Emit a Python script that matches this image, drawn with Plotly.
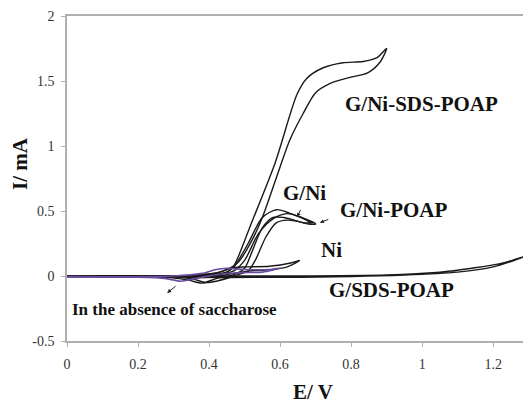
import plotly.graph_objects as go

# ---- data (E in V, I in mA), forward then reverse scan ----
sds_poap_E = [0, 0.2, 0.35, 0.43, 0.48, 0.52, 0.55, 0.59, 0.628, 0.665, 0.70, 0.74, 0.80, 0.845, 0.88, 0.90,
              0.873, 0.834, 0.777, 0.72, 0.675, 0.648, 0.586, 0.515, 0.49, 0.47, 0.45, 0.40, 0.2, 0]
sds_poap_I = [0, 0, 0.005, 0.03, 0.10, 0.27, 0.45, 0.76, 1.05, 1.25, 1.41, 1.48, 1.53, 1.56, 1.64, 1.75,
              1.68, 1.65, 1.64, 1.60, 1.52, 1.40, 0.87, 0.377, 0.2, 0.08, 0.03, 0.0, -0.005, -0.005]

gni_E = [0, 0.3, 0.40, 0.45, 0.47, 0.51, 0.55, 0.59, 0.63, 0.66, 0.68, 0.695,
         0.665, 0.64, 0.61, 0.58, 0.55, 0.52, 0.50, 0.47, 0.42, 0.38, 0.34, 0.25, 0]
gni_I = [0, 0.0, 0.01, 0.03, 0.07, 0.25, 0.45, 0.51, 0.48, 0.45, 0.42, 0.41,
         0.41, 0.43, 0.45, 0.45, 0.37, 0.18, 0.06, 0.01, -0.02, -0.055, -0.03, -0.005, 0]

gni_poap_E = [0, 0.3, 0.42, 0.47, 0.50, 0.54, 0.58, 0.62, 0.66, 0.70,
              0.68, 0.65, 0.62, 0.59, 0.56, 0.53, 0.51, 0.47, 0.42, 0.39, 0.35, 0.2, 0]
gni_poap_I = [0, 0, 0.01, 0.04, 0.12, 0.33, 0.44, 0.48, 0.45, 0.40,
              0.40, 0.42, 0.43, 0.41, 0.30, 0.12, 0.04, 0.0, -0.04, -0.05, -0.02, 0, 0]

ni_E = [0, 0.35, 0.43, 0.46, 0.50, 0.57, 0.63, 0.655,
        0.62, 0.58, 0.52, 0.47, 0.40, 0.3, 0]
ni_I = [0, 0.005, 0.03, 0.06, 0.07, 0.075, 0.10, 0.12,
        0.07, 0.05, 0.04, 0.02, -0.01, -0.005, 0]

g_sds_poap_E = [0, 0.3, 0.6, 0.9, 1.05, 1.14, 1.22, 1.30,
                1.2, 1.1, 0.95, 0.6, 0.3, 0]
g_sds_poap_I = [0, 0, 0.0, 0.008, 0.03, 0.06, 0.095, 0.16,
                0.07, 0.03, 0.008, -0.01, -0.01, -0.005]

blank_E = [0, 0.3, 0.38, 0.42, 0.45, 0.5, 0.57, 0.6,
           0.55, 0.48, 0.42, 0.36, 0.32, 0.28, 0.2, 0]
blank_I = [-0.005, 0.0, 0.02, 0.05, 0.06, 0.05, 0.05, 0.06,
           0.03, 0.025, 0.01, -0.02, -0.04, -0.02, -0.01, -0.01]

x_ticks = [0, 0.2, 0.4, 0.6, 0.8, 1, 1.2]
x_tick_text = ["0", "0.2", "0.4", "0.6", "0.8", "1", "1.2"]
y_ticks = [-0.5, 0, 0.5, 1, 1.5, 2]
y_tick_text = ["-0.5", "0", "0.5", "1", "1.5", "2"]

SERIF = "Liberation Serif"
BLACK = "#1a1a1a"
PURPLE = "#6a4c9c"

fig = go.Figure()
for E, I in [(g_sds_poap_E, g_sds_poap_I), (ni_E, ni_I), (gni_poap_E, gni_poap_I),
             (gni_E, gni_I), (sds_poap_E, sds_poap_I)]:
    fig.add_trace(go.Scatter(x=E, y=I, mode="lines",
                             line=dict(color=BLACK, width=1.4, shape="spline", smoothing=0.8),
                             showlegend=False, hoverinfo="skip"))
fig.add_trace(go.Scatter(x=blank_E, y=blank_I, mode="lines",
                         line=dict(color=PURPLE, width=1.6, shape="spline", smoothing=0.8),
                         showlegend=False, hoverinfo="skip"))

lab = dict(family=SERIF, size=21, color="#111")
anns = [
    dict(x=0.997, y=1.32, text="<b>G/Ni-SDS-POAP</b>", showarrow=False, font=lab),
    dict(x=0.67, y=0.64, text="<b>G/Ni</b>", showarrow=False, font=lab),
    dict(x=0.92, y=0.51, text="<b>G/Ni-POAP</b>", showarrow=False, font=lab),
    dict(x=0.746, y=0.20, text="<b>Ni</b>", showarrow=False, font=lab),
    dict(x=0.915, y=-0.11, text="<b>G/SDS-POAP</b>", showarrow=False, font=lab),
    dict(x=0.304, y=-0.254, text="<b>In the absence of saccharose</b>", showarrow=False,
         font=dict(family=SERIF, size=17, color="#111")),
    # arrows
    dict(x=0.648, y=0.455, ax=0.66, ay=0.52, xref="x", yref="y", axref="x", ayref="y",
         text="", showarrow=True, arrowhead=2, arrowsize=0.8, arrowwidth=1, arrowcolor="#222"),
    dict(x=0.712, y=0.41, ax=0.74, ay=0.44, xref="x", yref="y", axref="x", ayref="y",
         text="", showarrow=True, arrowhead=2, arrowsize=0.8, arrowwidth=1, arrowcolor="#222"),
    dict(x=0.282, y=-0.13, ax=0.31, ay=-0.07, xref="x", yref="y", axref="x", ayref="y",
         text="", showarrow=True, arrowhead=2, arrowsize=0.8, arrowwidth=1, arrowcolor="#222"),
    # axis titles
    dict(x=0.693, y=-0.157, xref="x", yref="paper", xanchor="center", yanchor="middle",
         text="<b>E/ V</b>", showarrow=False, font=dict(family=SERIF, size=21, color="#111")),
    dict(x=-0.103, y=0.545, xref="paper", yref="paper", xanchor="center", yanchor="middle",
         text="<b>I/ mA</b>", showarrow=False,
         textangle=-90, font=dict(family=SERIF, size=21, color="#111")),
]
fig.update_layout(annotations=anns)

axis_common = dict(showgrid=False, zeroline=False, showline=True, linecolor="#b0b0b0", linewidth=1.5,
                   ticks="outside", ticklen=4, tickcolor="#b0b0b0",
                   tickfont=dict(family=SERIF, size=14, color="#333"))
fig.update_xaxes(range=[0, 1.284], tickvals=x_ticks, ticktext=x_tick_text, mirror=True,
                 ticklabelstandoff=5, **axis_common)
fig.update_yaxes(range=[-0.5, 2], tickvals=y_ticks, ticktext=y_tick_text,
                 ticklabelstandoff=4, **axis_common)

fig.update_layout(width=523, height=405, margin=dict(l=67, r=0, t=16, b=64),
                  plot_bgcolor="white", paper_bgcolor="white")

fig.write_html("out.html")
